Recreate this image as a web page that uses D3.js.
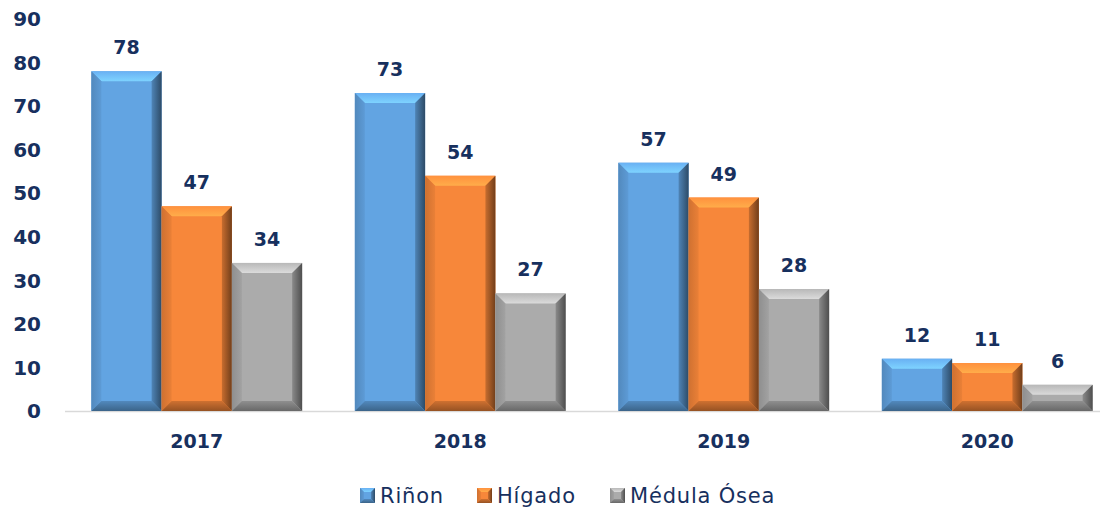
<!DOCTYPE html>
<html lang="es">
<head>
<meta charset="utf-8" />
<title>Trasplantes</title>
<script src="https://d3js.org/d3.v7.min.js"></script>
<style>
  body { margin: 0; background: #fff; }
  text { font-family: "DejaVu Sans", sans-serif; fill: #17305E; }
</style>
</head>
<body>
<script>
// data
const years = ["2017", "2018", "2019", "2020"];
const organs = ["Riñon", "Hígado", "Médula Ósea"];
const rinon = [78, 73, 57, 12];
const higado = [47, 54, 49, 11];
const medula = [34, 27, 28, 6];
const yTicks = [0, 10, 20, 30, 40, 50, 60, 70, 80, 90];

const series = [rinon, higado, medula];
const colors = ["#62A4E2", "#F7873A", "#ABABAB"];

const width = 1107, height = 510;
const svg = d3.select("body").append("svg")
    .attr("width", width)
    .attr("height", height);

const x = d3.scaleBand().domain(years).range([65, 1119]).paddingInner(0.2).paddingOuter(0.1);
const x1 = d3.scaleBand().domain(d3.range(organs.length)).range([0, x.bandwidth()]);
const y = d3.scaleLinear().domain([0, 90]).range([411, 19]);

// gradients for bevel sides
const defs = svg.append("defs");
function shade(c, k) { return d3.color(c).darker(k).formatHex(); }
function light(c, k) { return d3.color(c).brighter(k).formatHex(); }
colors.forEach((c, i) => {
  let g = defs.append("linearGradient").attr("id", "top" + i).attr("x1", 0).attr("y1", 0).attr("x2", 0).attr("y2", 1);
  g.append("stop").attr("offset", 0).attr("stop-color", light(c, 0.2));
  g.append("stop").attr("offset", 1).attr("stop-color", light(c, 0.7));
  g = defs.append("linearGradient").attr("id", "right" + i).attr("x1", 0).attr("y1", 0).attr("x2", 1).attr("y2", 0);
  g.append("stop").attr("offset", 0).attr("stop-color", shade(c, 0.6));
  g.append("stop").attr("offset", 1).attr("stop-color", shade(c, 2.2));
  g = defs.append("linearGradient").attr("id", "bottom" + i).attr("x1", 0).attr("y1", 0).attr("x2", 0).attr("y2", 1);
  g.append("stop").attr("offset", 0).attr("stop-color", shade(c, 0.5));
  g.append("stop").attr("offset", 1).attr("stop-color", shade(c, 1.4));
  g = defs.append("linearGradient").attr("id", "left" + i).attr("x1", 0).attr("y1", 0).attr("x2", 1).attr("y2", 0);
  g.append("stop").attr("offset", 0).attr("stop-color", shade(c, 0.5));
  g.append("stop").attr("offset", 1).attr("stop-color", shade(c, 0.15));
});

// draw a bevelled box
function bevel(g, x0, y0, w, h, i, b) {
  b = Math.min(b, h / 2, w / 2);
  const x1b = x0 + w, y1b = y0 + h;
  g.append("rect").attr("x", x0).attr("y", y0).attr("width", w).attr("height", h).attr("fill", colors[i]);
  const poly = (pts, fill) => g.append("polygon").attr("points", pts.map(p => p.join(",")).join(" ")).attr("fill", fill);
  poly([[x0, y0], [x1b, y0], [x1b - b, y0 + b], [x0 + b, y0 + b]], `url(#top${i})`);
  poly([[x0, y0], [x0 + b, y0 + b], [x0 + b, y1b - b], [x0, y1b]], `url(#left${i})`);
  poly([[x1b, y0], [x1b, y1b], [x1b - b, y1b - b], [x1b - b, y0 + b]], `url(#right${i})`);
  poly([[x0, y1b], [x0 + b, y1b - b], [x1b - b, y1b - b], [x1b, y1b]], `url(#bottom${i})`);
}

// baseline
svg.append("line")
    .attr("x1", 65).attr("x2", 1100)
    .attr("y1", y(0) + 0.5).attr("y2", y(0) + 0.5)
    .attr("stroke", "#D9D9D9").attr("stroke-width", 1.5);

// y axis labels
svg.append("g").selectAll("text")
  .data(yTicks)
  .join("text")
    .attr("x", 41)
    .attr("y", d => y(d))
    .attr("dy", "0.36em")
    .attr("text-anchor", "end")
    .attr("font-size", 20)
    .attr("font-weight", 600)
    .text(d => d);

// bars
years.forEach((yr, j) => {
  series.forEach((s, i) => {
    const g = svg.append("g");
    const bx = x(yr) + x1(i);
    bevel(g, bx, y(s[j]), x1.bandwidth(), y(0) - y(s[j]), i, 10);
    svg.append("text")
      .attr("x", bx + x1.bandwidth() / 2)
      .attr("y", y(s[j]) - 17)
      .attr("text-anchor", "middle")
      .attr("font-size", 19)
      .attr("font-weight", 700)
      .text(s[j]);
  });
  svg.append("text")
    .attr("x", x(yr) + x.bandwidth() / 2)
    .attr("y", 448)
    .attr("text-anchor", "middle")
    .attr("font-size", 19)
    .attr("font-weight", 700)
    .text(yr);
});

// legend
const legX = [360, 477, 610];
organs.forEach((o, i) => {
  const g = svg.append("g");
  bevel(g, legX[i], 488, 15, 15, i, 4);
  g.append("text")
    .attr("x", legX[i] + 20)
    .attr("y", 503)
    .attr("font-size", 21)
    .attr("letter-spacing", 0.8)
    .text(o);
});
</script>
</body>
</html>
